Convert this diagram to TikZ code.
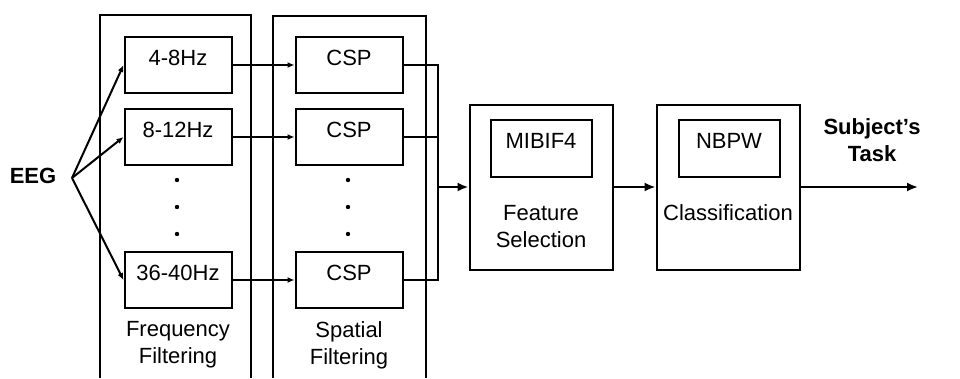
\documentclass[tikz,border=0pt]{standalone}
\usepackage{fontspec}
\setmainfont{Liberation Sans}
\usetikzlibrary{calc, arrows.meta}

\newcommand{\figfont}{\fontsize{22}{27}\selectfont}

\begin{document}
\begin{tikzpicture}[x=1pt,y=-1pt,line width=2pt,font=\figfont,
    box/.style={draw, minimum width=107pt, minimum height=56pt, inner sep=0pt,
                text height=16pt, text depth=16pt},
    inbox/.style={draw, minimum width=101pt, minimum height=57pt, inner sep=0pt,
                text height=16pt, text depth=16pt},
    stage/.style={draw, minimum width=143pt, minimum height=165pt},
    small/.style={-{Latex[length=7pt,width=6pt]}},
    big/.style={-{Latex[length=11pt,width=9pt]}}]
      \useasboundingbox (0,0) rectangle (960,378);

      % the two filter bank frames, open at the bottom
      \draw (100,378) -- (100,15) -- (251,15) -- (251,378);
      \draw (273,378) -- (273,16) -- (426,16) -- (426,378);

      \node[box] (f1) at (178,65) {4-8Hz};
      \node[box] (f2) at (178,137) {8-12Hz};
      \node[box] (f3) at (178,280) {36-40Hz};

      \node[box] (c1) at (349,65) {CSP};
      \node[box] (c2) at (349,137) {CSP};
      \node[box] (c3) at (349,280) {CSP};

      \foreach \y in {180,207,234} {
        \fill (177,\y) circle (2.2pt);
        \fill (348,\y) circle (2.2pt);
      }

      \node[align=center] (flbl) at (178,345) {Frequency\\Filtering};
      \node[align=center] (slbl) at (349,345) {Spatial\\Filtering};

      % input splits into the bands
      \node[font=\figfont\bfseries] (eeg) at (33,176) {EEG};
      \coordinate (split) at (72,178);
      \foreach \f in {f1,f2,f3}
        \draw[small] (split) -- (\f.west);

      \foreach \i in {1,2,3}
        \draw[small] (f\i.east) -- (c\i.west);

      % CSP outputs merge on one bus
      \coordinate (bus) at (438,187);
      \draw (c1.east) -| (bus) |- (c3.east);
      \draw (c2.east) -- (c2.east -| bus);

      \node[stage] (feat) at (541,187) {};
      \node[inbox] (mibif) at (541,148) {MIBIF4};
      \node[align=center] (featlbl) at (541,227) {Feature\\Selection};

      \node[stage] (cls) at (728,187) {};
      \node[inbox] (nbpw) at (729,148) {NBPW};
      \node (clslbl) at (728,213) {Classification};

      \draw[big, line width=2.6pt] (bus) -- (feat.west);
      \draw[big] (feat.east) -- (cls.west);

      \coordinate (out) at (918,187);
      \draw[big] (cls.east) -- (out);
      \node[font=\figfont\bfseries, align=center] (task) at (872,140) {Subject’s\\Task};
    \end{tikzpicture}
\end{document}
